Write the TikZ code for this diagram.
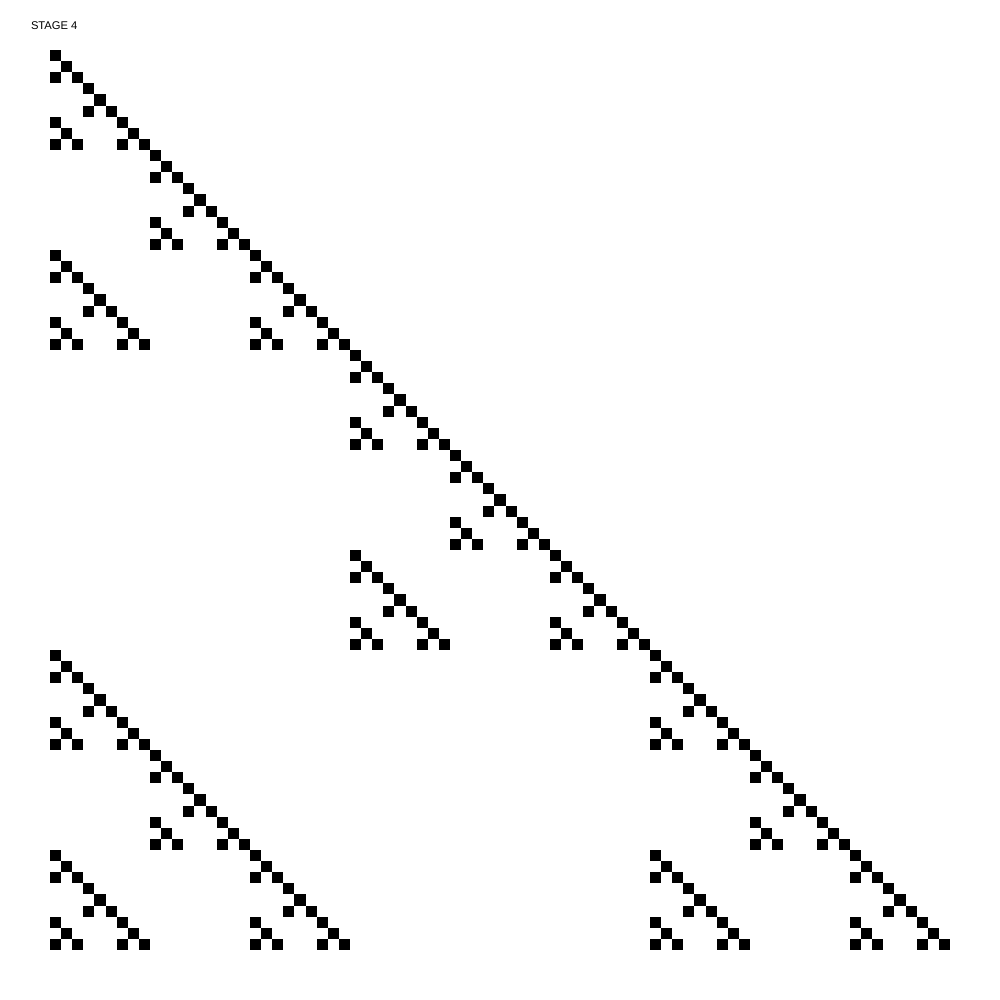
\documentclass[tikz,border=0pt]{standalone}
\usepackage{fontspec}
\setmainfont{Liberation Sans}
\begin{document}
\begin{tikzpicture}[x=1pt,y=-1pt,cellbox/.style={fill=black}]
\useasboundingbox[fill=white] (0,0) rectangle (1000,1000);
\node[anchor=base west,inner sep=0pt,font=\fontsize{11.2}{13}\selectfont] (title) at (30.8,29.5) {STAGE 4};
\def\cs{11.1111}
\foreach \ra/\ca in {0/0,1/1,2/0,2/2}{
 \foreach \rb/\cb in {0/0,1/1,2/0,2/2}{
  \foreach \rc/\cc in {0/0,1/1,2/0,2/2}{
   \foreach \rd/\cd in {0/0,1/1,2/0,2/2}{
     \pgfmathsetmacro{\rr}{27*\ra+9*\rb+3*\rc+\rd}
     \pgfmathsetmacro{\cc}{27*\ca+9*\cb+3*\cc+\cd}
     \fill[cellbox] ({50+\cc*\cs},{50+\rr*\cs}) rectangle ++(\cs,\cs);
   }
  }
 }
}
\end{tikzpicture}
\end{document}
